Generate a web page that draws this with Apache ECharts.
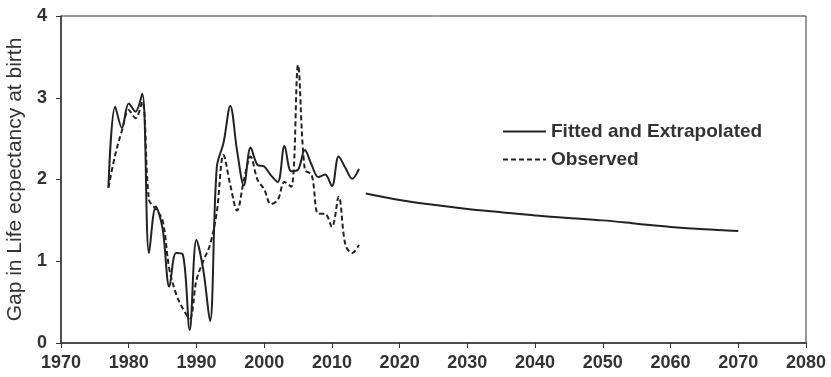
<!DOCTYPE html>
<html><head><meta charset="utf-8">
<script src="https://cdn.jsdelivr.net/npm/echarts@6/dist/echarts.min.js"></script>
<style>html,body{margin:0;padding:0;background:#fff}#c{width:831px;height:377px}</style>
</head><body><div id="c"></div>
<script>
var years = [1977,1978,1979,1980,1981,1982,1983,1984,1985,1986,1987,1988,1989,1990,1991,1992,1993,1994,1995,1996,1997,1998,1999,2000,2001,2002,2003,2004,2005,2006,2007,2008,2009,2010,2011,2012,2013,2014];
var fitted = [1.9,2.89,2.63,2.93,2.83,3.05,1.1,1.67,1.4,0.69,1.1,1.08,0.16,1.26,0.9,0.27,2.15,2.45,2.9,2.35,1.93,2.39,2.18,2.16,2.05,1.97,2.41,2.1,2.12,2.36,2.18,2.03,2.06,1.92,2.28,2.14,2.01,2.13];
var observed = [1.9,2.3,2.6,2.85,2.75,2.95,1.75,1.64,1.5,0.9,0.6,0.42,0.3,0.77,1.0,1.2,1.6,2.3,1.93,1.62,1.99,2.28,2.0,1.88,1.7,1.75,1.97,1.91,3.4,2.12,2.06,1.58,1.58,1.42,1.79,1.2,1.1,1.2];
var extYears = [2015,2020,2025,2030,2035,2040,2045,2050,2055,2060,2065,2070];
var extrapolated = [1.83,1.75,1.69,1.64,1.6,1.56,1.53,1.5,1.46,1.42,1.39,1.37];
var xTicks = [1970,1980,1990,2000,2010,2020,2030,2040,2050,2060,2070,2080];
var yTicks = [0,1,2,3,4];

function pairs(xs, ys){ return xs.map(function(x,i){ return [x, ys[i]]; }); }
var txt = '#333';
var chart = echarts.init(document.getElementById('c'));
chart.setOption({
  animation:false,
  grid:{left:61,right:25,top:16,bottom:34,show:true,borderColor:'#333',borderWidth:1,
    containLabel:false,outerBoundsMode:'none'},
  legend:{
    left:497, top:117, orient:'vertical', itemGap:9, itemWidth:43, itemHeight:14,
    itemStyle:{opacity:0},
    textStyle:{fontFamily:'Liberation Sans',fontWeight:'bold',fontSize:19,color:txt},
    data:['Fitted and Extrapolated','Observed']
  },
  xAxis:{type:'value',min:xTicks[0],max:xTicks[xTicks.length-1],interval:10,
    axisLine:{lineStyle:{color:'#333',width:1.5}},
    axisTick:{show:true,inside:false,length:5,lineStyle:{color:'#333'}},
    splitLine:{show:false},
    axisLabel:{fontFamily:'Liberation Sans',fontWeight:'bold',fontSize:18,color:txt,margin:11,
      formatter:function(v){return String(v);}}},
  yAxis:{type:'value',min:yTicks[0],max:yTicks[yTicks.length-1],interval:1,
    name:'Gap in Life ecpectancy at birth',nameLocation:'middle',nameRotate:90,nameGap:34,
    nameTextStyle:{fontFamily:'Liberation Sans',fontSize:21,color:txt},
    axisLine:{show:true,lineStyle:{color:'#333',width:1.5}},
    axisTick:{show:true,inside:false,length:5,lineStyle:{color:'#333'}},
    splitLine:{show:false},
    axisLabel:{fontFamily:'Liberation Sans',fontWeight:'bold',fontSize:18,color:txt,margin:14}},
  series:[
    {name:'Fitted and Extrapolated',type:'line',data:pairs(years,fitted),smooth:0.35,symbol:'none',
      lineStyle:{color:'#222',width:2},itemStyle:{color:'#222'}},
    {name:'Observed',type:'line',data:pairs(years,observed),smooth:0.35,symbol:'none',
      lineStyle:{color:'#222',width:2,type:[5,3]},itemStyle:{color:'#222'}},
    {name:'Fitted and Extrapolated',type:'line',data:pairs(extYears,extrapolated),smooth:0.3,symbol:'none',
      lineStyle:{color:'#222',width:2},itemStyle:{color:'#222'}}
  ]
});
</script></body></html>
